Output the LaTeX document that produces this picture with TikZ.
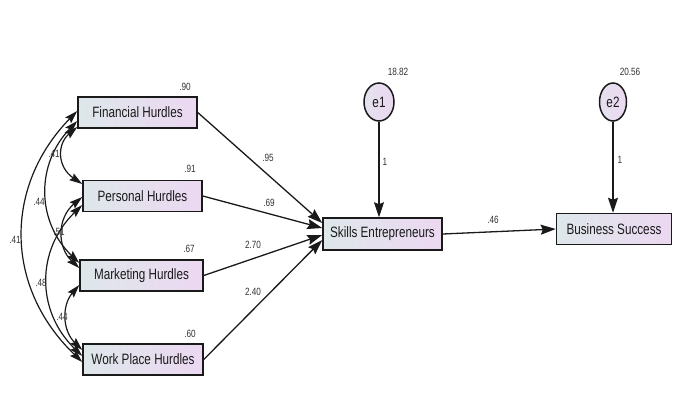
\documentclass[tikz,border=0pt]{standalone}
\usepackage{fontspec}
\setmainfont{Liberation Sans}[FakeStretch=0.78]
\usetikzlibrary{arrows.meta,calc,shapes.geometric}
\definecolor{boxL}{HTML}{DEE7EA}
\definecolor{boxR}{HTML}{ECD8F2}
\definecolor{ink}{HTML}{1A1A1A}
\definecolor{lbl}{HTML}{333333}
\tikzset{
  var/.style={draw=ink, line width=1.5pt, left color=boxL, right color=boxR,
    minimum height=31pt, inner sep=0pt, text=ink, font=\fontsize{15}{17}\selectfont},
  err/.style={draw=ink, line width=1.5pt, ellipse, left color=boxL!60!boxR, right color=boxR,
    minimum width=28pt, minimum height=38pt, inner sep=0pt, text=ink, font=\fontsize{15}{17}\selectfont},
  num/.style={text=lbl, inner sep=0pt, font=\fontsize{10.5}{12}\selectfont},
  path/.style={draw=ink, line width=1.3pt, -{Stealth[length=15pt,width=10pt,inset=2pt]}},
  cov/.style={draw=ink, line width=1.2pt, {Stealth[length=13pt,width=8pt,inset=2pt]}-{Stealth[length=13pt,width=8pt,inset=2pt]}}
}
\begin{document}
\begin{tikzpicture}[x=1pt,y=-1pt]
\useasboundingbox[fill=white] (0,0) rectangle (673,400);

% observed variables
\node[var, minimum width=119pt] (fin) at (137.5,112.5) {Financial Hurdles};
\node[var, minimum width=119pt] (per) at (142.5,196) {Personal Hurdles};
\node[var, minimum width=123pt] (mkt) at (141.5,275.5) {Marketing Hurdles};
\node[var, minimum width=120pt] (wp)  at (143,359.5) {Work Place Hurdles};
\node[var, minimum width=119pt, minimum height=32pt] (se) at (382.5,234) {Skills Entrepreneurs};
\node[var, minimum width=115pt] (bs) at (614,229) {Business Success};

% error terms
\node[err, minimum width=30pt] (e1) at (379,102) {e1};
\node[err, minimum width=27pt] (e2) at (613,102) {e2};

% variances
\node[num] (vfin) at (185,87) {.90};
\node[num] (vper) at (190,169) {.91};
\node[num] (vmkt) at (189,249) {.67};
\node[num] (vwp)  at (190,334) {.60};
\node[num] (ve1)  at (398,72) {18.82};
\node[num] (ve2)  at (630,72) {20.56};

% regression paths
\draw[path] (fin.east) -- ($(se.west)+(0,-11)$);
\draw[path] (per.east) -- ($(se.west)+(0,-6)$);
\draw[path] (mkt.east) -- ($(se.west)+(0,1)$);
\draw[path] (wp.east)  -- ($(se.west)+(0,6)$);
\draw[path] (se.east)  -- ($(bs.west)+(0,0)$);
\draw[path] (e1.south) -- (e1.south |- se.north);
\draw[path] (e2.south) -- (e2.south |- bs.north);

\node[num] (p1) at (268,158) {.95};
\node[num] (p2) at (269,203) {.69};
\node[num] (p3) at (253,245) {2.70};
\node[num] (p4) at (253,292) {2.40};
\node[num] (p5) at (493,220) {.46};
\node[num] (p6) at (385,162) {1};
\node[num] (p7) at (620,160) {1};

% covariances
\draw[cov] ($(fin.west)+(0,14.5)$) .. controls (57,144) and (57,167) .. ($(per.west)+(0,-12)$);
\draw[cov] ($(fin.west)+(0,8.5)$) .. controls (36,164) and (36,221) .. ($(mkt.west)+(0,-12.5)$);
\draw[cov] ($(fin.west)+(0,-1.5)$) .. controls (4,186) and (4,287) .. ($(wp.west)+(0,2.5)$);
\draw[cov] ($(per.west)+(0,1)$) .. controls (57,218) and (57,247) .. ($(mkt.west)+(0,-7.5)$);
\draw[cov] ($(per.west)+(0,9)$) .. controls (36,250) and (36,311) .. ($(wp.west)+(0,-3.5)$);
\draw[cov] ($(mkt.west)+(0,9.5)$) .. controls (62,305) and (62,330) .. ($(wp.west)+(0,-9.5)$);

\node[num] (c1) at (54,154) {.41};
\node[num] (c2) at (39,202) {.44};
\node[num] (c3) at (15,240) {.41};
\node[num] (c4) at (59,232) {.51};
\node[num] (c5) at (41,283) {.48};
\node[num] (c6) at (62,317) {.44};
\end{tikzpicture}
\end{document}
